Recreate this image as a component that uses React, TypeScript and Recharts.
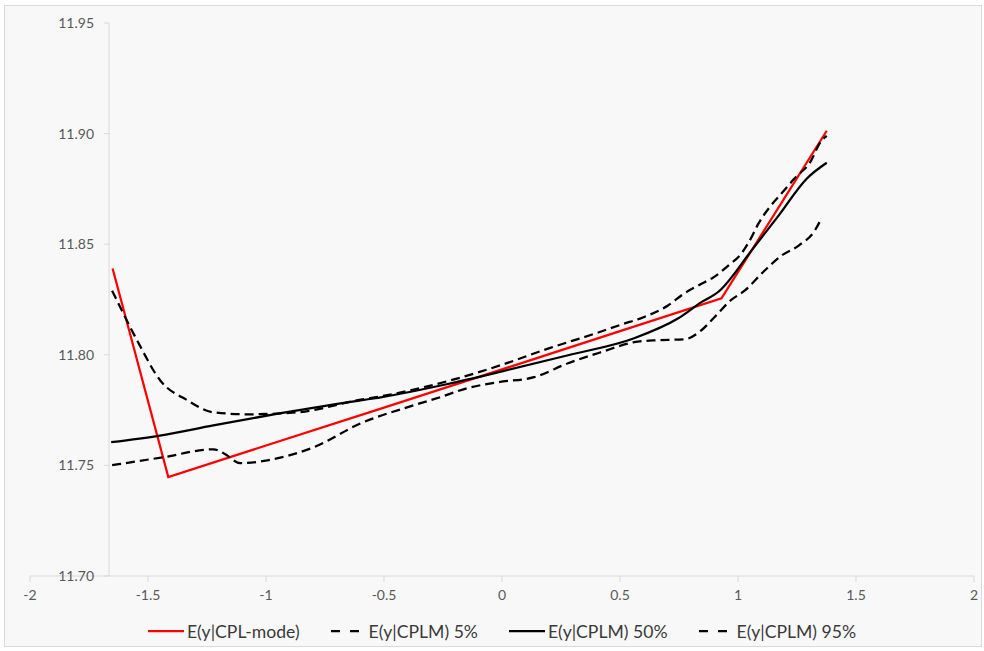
import React from 'react';
import { LineChart, Line, XAxis, YAxis, ReferenceLine } from 'recharts';

// axis ticks
const xTicks = [-2, -1.5, -1, -0.5, 0, 0.5, 1, 1.5, 2];
const yTicks = [11.7, 11.75, 11.8, 11.85, 11.9, 11.95];

// E(y|CPL-mode)
const modeX = [-1.65, -1.414, -1.0, -0.5, 0, 0.5, 0.93, 1.376];
const modeY = [11.839, 11.7447, 11.759, 11.7761, 11.7934, 11.8107, 11.8255, 11.9013];

// E(y|CPLM) 5%
const p5X = [-1.652, -1.435, -1.223, -1.18, -1.108, -0.994, -0.798, -0.599, -0.373, -0.26, -0.144, -0.017, 0.136, 0.28, 0.42, 0.56, 0.66, 0.773, 0.845, 0.9, 0.97, 1.028, 1.112, 1.185, 1.257, 1.325, 1.355];
const p5Y = [11.7501, 11.7537, 11.7573, 11.7555, 11.751, 11.7523, 11.7582, 11.769, 11.7772, 11.7809, 11.785, 11.7876, 11.7899, 11.7962, 11.8012, 11.8057, 11.8066, 11.807, 11.8111, 11.817, 11.8247, 11.829, 11.838, 11.8449, 11.8494, 11.8561, 11.862];

// E(y|CPLM) 50%
const p50X = [-1.656, -1.45, -1.223, -0.938, -0.599, -0.514, -0.23, 0, 0.28, 0.56, 0.747, 0.845, 0.917, 1.057, 1.172, 1.291, 1.376];
const p50Y = [11.7605, 11.7635, 11.7681, 11.7736, 11.7794, 11.7808, 11.7868, 11.7925, 11.7998, 11.8075, 11.8165, 11.8238, 11.8285, 11.8471, 11.8629, 11.8796, 11.8868];

// E(y|CPLM) 95%
const p95X = [-1.652, -1.546, -1.448, -1.333, -1.223, -1.079, -0.866, -0.599, -0.514, -0.216, 0, 0.195, 0.4, 0.506, 0.6, 0.705, 0.773, 0.836, 0.896, 0.96, 1.015, 1.057, 1.087, 1.134, 1.185, 1.24, 1.303, 1.355, 1.376];
const p95Y = [11.829, 11.8065, 11.7884, 11.7794, 11.774, 11.7731, 11.774, 11.7797, 11.7812, 11.7885, 11.7955, 11.8028, 11.8098, 11.8137, 11.817, 11.8224, 11.8278, 11.8316, 11.835, 11.8404, 11.8459, 11.8531, 11.8594, 11.8667, 11.873, 11.8798, 11.8866, 11.897, 11.899];

const yAxisCross = -1.665;

const zip = (xs: number[], ys: number[]) => xs.map((x, i) => ({ x, y: ys[i] }));

const series = [
  { name: 'E(y|CPL-mode)', data: zip(modeX, modeY), color: '#ff0000', dash: undefined, type: 'linear' },
  { name: 'E(y|CPLM) 5%', data: zip(p5X, p5Y), color: '#000000', dash: '9 5', type: 'monotone' },
  { name: 'E(y|CPLM) 50%', data: zip(p50X, p50Y), color: '#000000', dash: undefined, type: 'monotone' },
  { name: 'E(y|CPLM) 95%', data: zip(p95X, p95Y), color: '#000000', dash: '9 5', type: 'monotone' },
];

const W = 984;
const H = 651;
const PLOT_LEFT = 30;
const PLOT_W = 944;
const FONT = 'Lato, "Open Sans", sans-serif';
const AXIS_X = PLOT_LEFT + ((yAxisCross + 2) / 4) * PLOT_W;

const YTick = (props: any) => {
  const { y, payload } = props;
  return (
    <g>
      <line x1={AXIS_X - 5} x2={AXIS_X} y1={y} y2={y} stroke="#d9d9d9" />
      <text x={AXIS_X - 15} y={y} dy={5} textAnchor="end" fill="#595959" fontSize={14} fontFamily={FONT}>
        {Number(payload.value).toFixed(2)}
      </text>
    </g>
  );
};

const App: React.FC = () => {
  return (
    <div style={{ position: 'absolute', left: 0, top: 0, width: W, height: H, background: '#fff' }}>
      <div
        style={{
          position: 'absolute',
          left: 4,
          top: 5,
          width: 976,
          height: 640,
          border: '1px solid #d9d9d9',
          background: '#f8f8f8',
        }}
      />
      <div style={{ position: 'absolute', left: 0, top: 0 }}>
        <LineChart width={W} height={H} margin={{ top: 23, right: 10, left: 29, bottom: 45 }}>
          <XAxis
            dataKey="x"
            type="number"
            domain={[-2, 2]}
            ticks={xTicks}
            allowDataOverflow
            height={30}
            stroke="#d9d9d9"
            tickLine={{ stroke: '#d9d9d9' }}
            tick={{ fill: '#595959', fontSize: 14, fontFamily: FONT }}
            tickMargin={8}
          />
          <YAxis
            type="number"
            domain={[11.7, 11.95]}
            ticks={yTicks}
            allowDataOverflow
            width={1}
            axisLine={false}
            tickLine={false}
            tick={<YTick />}
          />
          <ReferenceLine x={yAxisCross} stroke="#d9d9d9" strokeWidth={1} />
          {series.map(s => (
            <Line
              key={s.name}
              data={s.data}
              dataKey="y"
              name={s.name}
              type={s.type as any}
              stroke={s.color}
              strokeWidth={2.25}
              strokeDasharray={s.dash}
              dot={false}
              activeDot={false}
              isAnimationActive={false}
            />
          ))}
        </LineChart>
      </div>
      <div
        style={{
          position: 'absolute',
          left: PLOT_LEFT,
          width: PLOT_W,
          top: 619,
          height: 24,
          display: 'flex',
          justifyContent: 'center',
          alignItems: 'center',
          gap: 31,
          fontFamily: FONT,
          fontSize: 17.6,
          color: '#3a3a3a',
        }}
      >
        {series.map(s => (
          <div key={s.name} style={{ display: 'flex', alignItems: 'center', gap: s.dash ? 10 : 3 }}>
            <svg width={s.dash ? 28 : 36} height={6}>
              <line
                x1={0}
                x2={s.dash ? 28 : 36}
                y1={3}
                y2={3}
                stroke={s.color}
                strokeWidth={2.25}
                strokeDasharray={s.dash ? '9 10' : undefined}
              />
            </svg>
            <span>{s.name}</span>
          </div>
        ))}
      </div>
    </div>
  );
};

export default App;
